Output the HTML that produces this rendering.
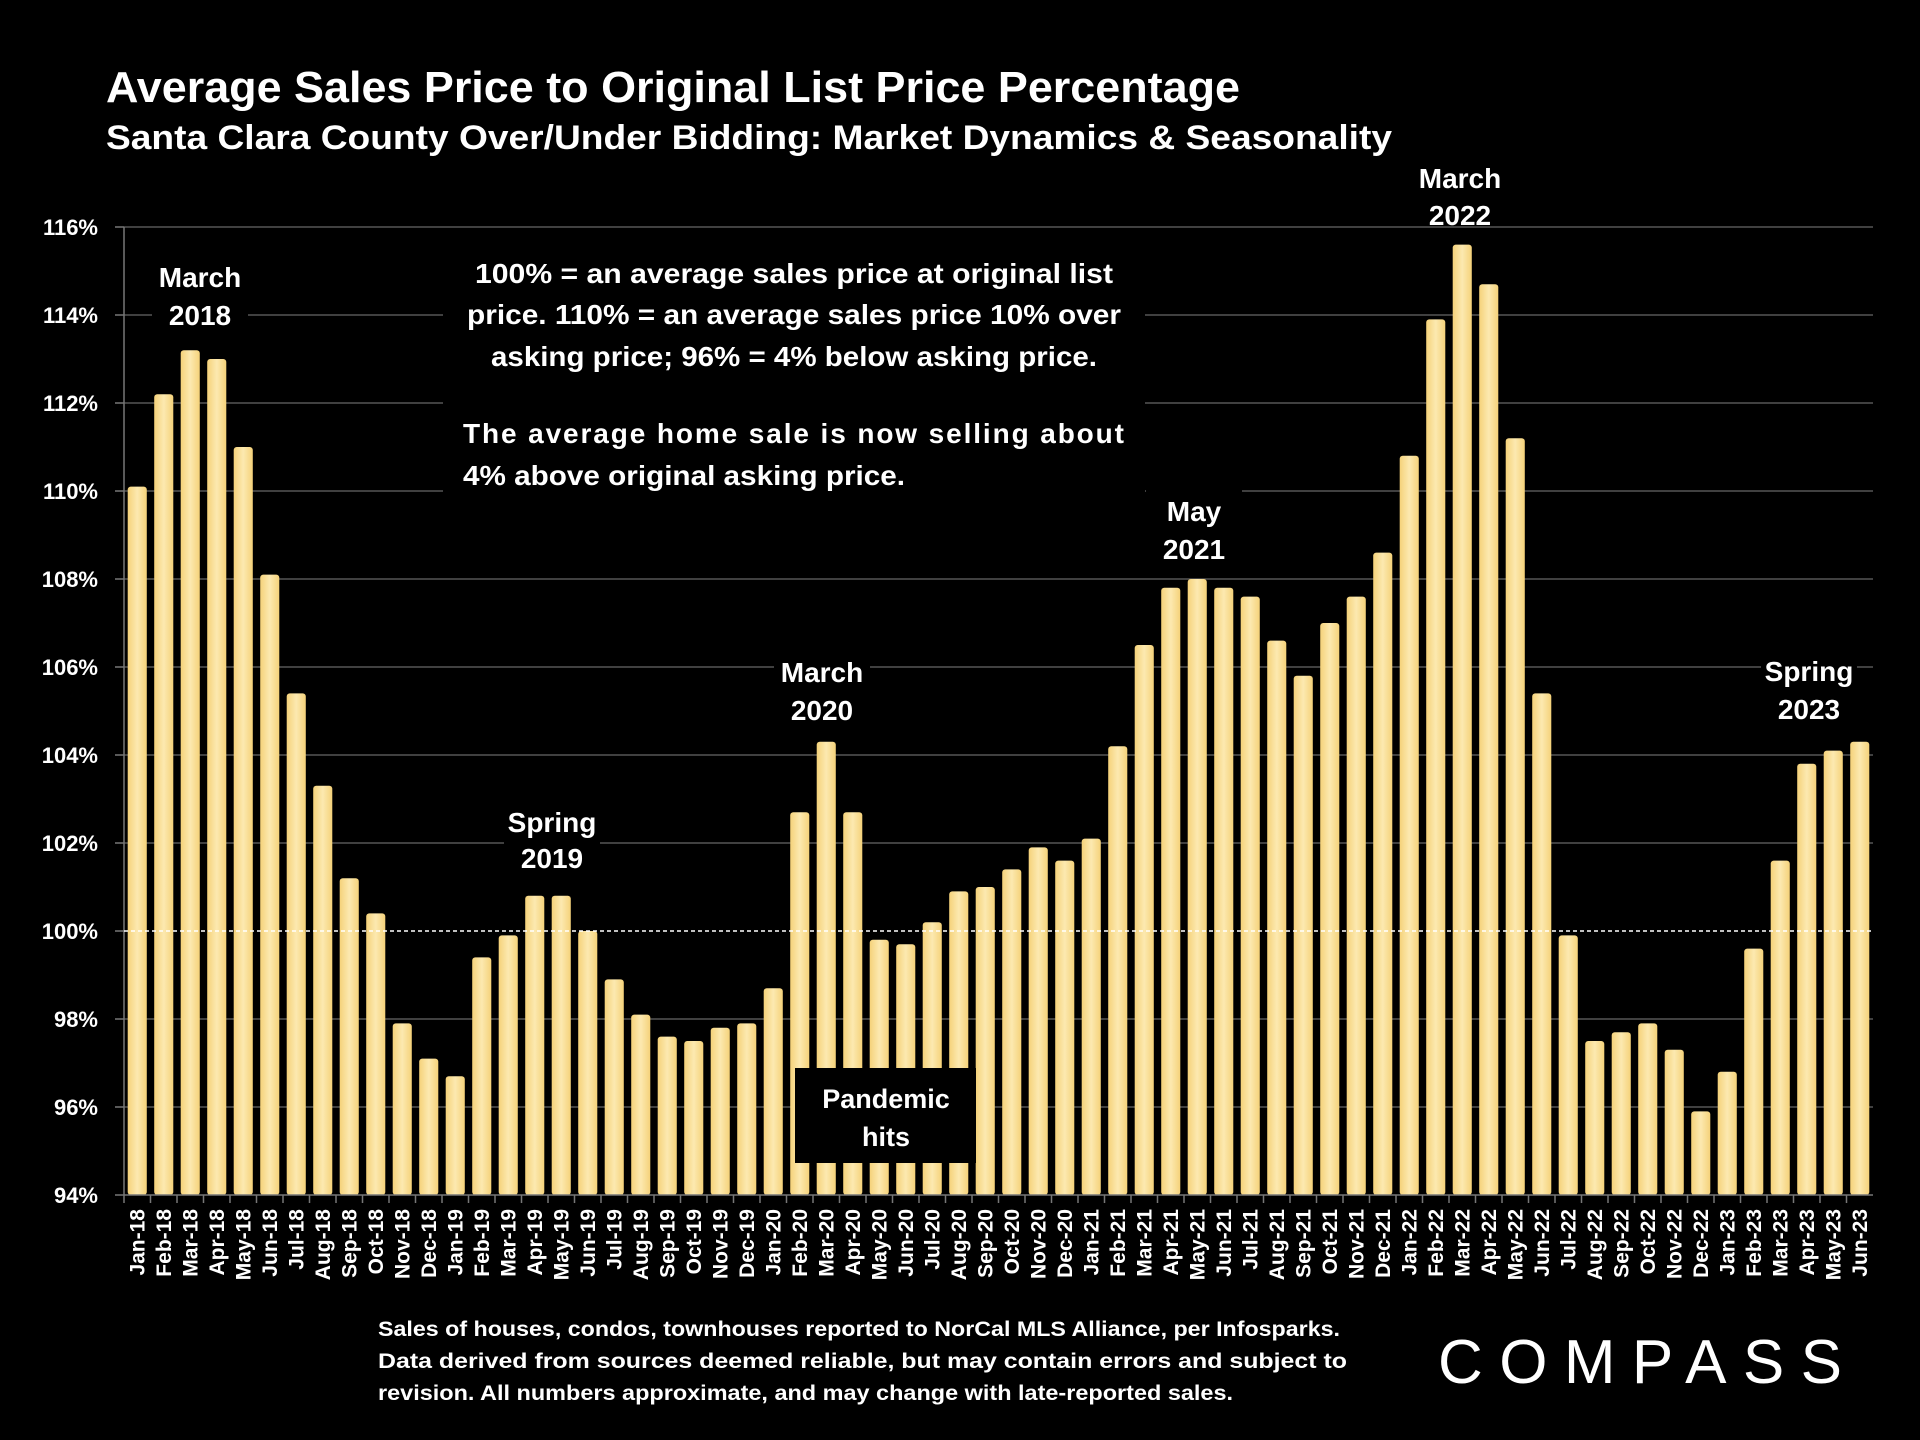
<!DOCTYPE html>
<html><head><meta charset="utf-8"><style>
html,body{margin:0;padding:0;background:#000;}
svg{display:block;font-family:"Liberation Sans",sans-serif;font-weight:bold;}
</style></head><body>
<svg id="c" width="1920" height="1440" viewBox="0 0 1920 1440">
<defs>
<linearGradient id="bg" x1="0" x2="1" y1="0" y2="0">
<stop offset="0" stop-color="#f5d27a"/><stop offset="0.5" stop-color="#fce9b0"/><stop offset="1" stop-color="#f5d27a"/>
</linearGradient>
</defs>
<rect width="1920" height="1440" fill="#000"/>
<text x="106" y="102" fill="#fff" font-size="44" textLength="1134" lengthAdjust="spacingAndGlyphs">Average Sales Price to Original List Price Percentage</text>
<text x="106" y="149" fill="#fff" font-size="34" textLength="1286" lengthAdjust="spacingAndGlyphs">Santa Clara County Over/Under Bidding: Market Dynamics &amp; Seasonality</text>
<g id="grid"></g><g id="bars"></g><g id="ann"></g><g id="xl"></g>
<text x="1640" y="1383" fill="#fff" font-size="62" font-weight="normal" text-anchor="middle" textLength="404" lengthAdjust="spacing">COMPASS</text>
</svg>
<script>
const categories=["Jan-18","Feb-18","Mar-18","Apr-18","May-18","Jun-18","Jul-18","Aug-18","Sep-18","Oct-18","Nov-18","Dec-18","Jan-19","Feb-19","Mar-19","Apr-19","May-19","Jun-19","Jul-19","Aug-19","Sep-19","Oct-19","Nov-19","Dec-19","Jan-20","Feb-20","Mar-20","Apr-20","May-20","Jun-20","Jul-20","Aug-20","Sep-20","Oct-20","Nov-20","Dec-20","Jan-21","Feb-21","Mar-21","Apr-21","May-21","Jun-21","Jul-21","Aug-21","Sep-21","Oct-21","Nov-21","Dec-21","Jan-22","Feb-22","Mar-22","Apr-22","May-22","Jun-22","Jul-22","Aug-22","Sep-22","Oct-22","Nov-22","Dec-22","Jan-23","Feb-23","Mar-23","Apr-23","May-23","Jun-23"];
const values=[110.1,112.2,113.2,113.0,111.0,108.1,105.4,103.3,101.2,100.4,97.9,97.1,96.7,99.4,99.9,100.8,100.8,100.0,98.9,98.1,97.6,97.5,97.8,97.9,98.7,102.7,104.3,102.7,99.8,99.7,100.2,100.9,101.0,101.4,101.9,101.6,102.1,104.2,106.5,107.8,108.0,107.8,107.6,106.6,105.8,107.0,107.6,108.6,110.8,113.9,115.6,114.7,111.2,105.4,99.9,97.5,97.7,97.9,97.3,95.9,96.8,99.6,101.6,103.8,104.1,104.3];
const yTicks=[94,96,98,100,102,104,106,108,110,112,114,116];
const NS="http://www.w3.org/2000/svg";
const X0=124,X1=1873,Y0=1195,Y1=227,VMIN=94,VMAX=116;
const bw=(X1-X0)/categories.length;
function y(v){return Y0-(v-VMIN)/(VMAX-VMIN)*(Y0-Y1);}
function x(i){return X0+i*bw;}
function mk(tag,attrs,parent,txt){const e=document.createElementNS(NS,tag);for(const k in attrs)e.setAttribute(k,attrs[k]);if(txt!==undefined)e.textContent=txt;parent.appendChild(e);return e;}
const grid=document.getElementById('grid'),bars=document.getElementById('bars'),ann=document.getElementById('ann'),xl=document.getElementById('xl');
yTicks.forEach(t=>{
  if(t!==94&&t!==100){const l=mk('line',{x1:X0,x2:X1,y1:y(t),y2:y(t),stroke:'#555','stroke-width':1.5},grid);
  
  }
  const tk=mk('line',{x1:X0-9,x2:X0,y1:y(t),y2:y(t),stroke:'#777','stroke-width':1.5},grid);
  
  
  const tx=mk('text',{x:98,y:y(t)+8,fill:'#fff','font-size':22,'text-anchor':'end'},grid,t+'%');
  
  
});
const ax=mk('line',{x1:X0,x2:X0,y1:Y1,y2:Y0,stroke:'#777','stroke-width':1.5},grid);


values.forEach((v,i)=>{
  const w=bw*0.72,cx=x(i)+bw/2;
  const r=mk('rect',{x:cx-w/2,y:y(v),width:w,height:Y0-y(v),rx:3,fill:'url(#bg)'},bars);
  
  
  const tk=mk('line',{x1:x(i),x2:x(i),y1:Y0,y2:Y0+8,stroke:'#777','stroke-width':1.5},xl);
  
  
  const t=mk('text',{x:0,y:0,fill:'#fff','font-size':21,'text-anchor':'end',transform:`translate(${cx+7},${Y0+14}) rotate(-90)`},xl,categories[i]);
  
  
});
const xa=mk('line',{x1:X0,x2:X1,y1:Y0,y2:Y0,stroke:'#777','stroke-width':1.5},xl);


const dl=mk('line',{x1:X0,x2:X1,y1:y(100),y2:y(100),stroke:'#fff','stroke-width':1.5,'stroke-dasharray':'4,3'},ann);


// annotation labels with black backgrounds
const labels=[["March","2018",200,277,315],["March","2022",1460,178,215],["May","2021",1194,511,549],["March","2020",822,672,710],["Spring","2019",552,822,858],["Spring","2023",1809,671,709]];
labels.forEach(l=>{
  const g=mk('g',{},ann);
  
  
  mk('rect',{x:l[2]-48,y:l[3]-28,width:96,height:l[4]-l[3]+36,fill:'#000'},g);
  mk('text',{x:l[2],y:l[3]+10,fill:'#fff','font-size':28,'text-anchor':'middle'},g,l[0]);
  mk('text',{x:l[2],y:l[4]+10,fill:'#fff','font-size':28,'text-anchor':'middle'},g,l[1]);
});
const eg=mk('g',{},ann);


mk('rect',{x:443,y:239,width:702,height:263,fill:'#000'},eg);
[["100% = an average sales price at original list",283,638],["price. 110% = an average sales price 10% over",324,654],["asking price; 96% = 4% below asking price.",366,606]].forEach(a=>{
  mk('text',{x:794,y:a[1],fill:'#fff','font-size':28,'text-anchor':'middle',textLength:a[2],lengthAdjust:'spacingAndGlyphs'},eg,a[0]);
});
mk('text',{x:463,y:443,fill:'#fff','font-size':28,textLength:661,lengthAdjust:'spacing'},eg,"The average home sale is now selling about");
mk('text',{x:463,y:485,fill:'#fff','font-size':28,textLength:442,lengthAdjust:'spacingAndGlyphs'},eg,"4% above original asking price.");
const pg=mk('g',{},ann);


mk('rect',{x:795,y:1068,width:181,height:95,fill:'#000'},pg);
mk('text',{x:886,y:1108,fill:'#fff','font-size':27,'text-anchor':'middle'},pg,"Pandemic");
mk('text',{x:886,y:1146,fill:'#fff','font-size':27,'text-anchor':'middle'},pg,"hits");
const fg=mk('g',{},ann);


[["Sales of houses, condos, townhouses reported to NorCal MLS Alliance, per Infosparks.",1336,962],["Data derived from sources deemed reliable, but may contain errors and subject to",1368,969],["revision. All numbers approximate, and may change with late-reported sales.",1400,855]].forEach(a=>{
  mk('text',{x:378,y:a[1],fill:'#fff','font-size':21,textLength:a[2],lengthAdjust:'spacingAndGlyphs'},fg,a[0]);
});
</script>
</body></html>
